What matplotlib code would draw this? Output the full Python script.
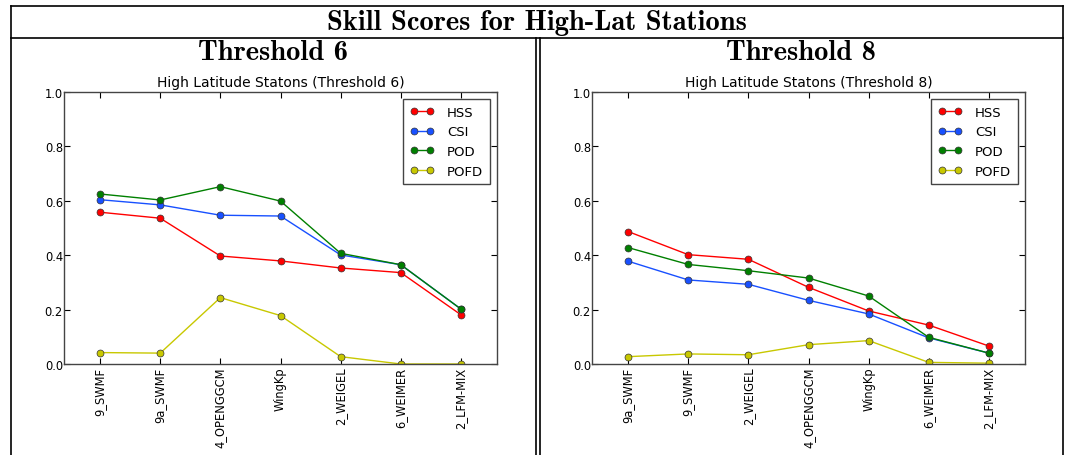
import matplotlib
matplotlib.use("Agg")
import matplotlib.pyplot as plt
from matplotlib.lines import Line2D

# station models along the x axis, ordered as in each panel
models_t6 = ["9_SWMF", "9a_SWMF", "4_OPENGGCM", "WingKp", "2_WEIGEL", "6_WEIMER", "2_LFM-MIX"]
models_t8 = ["9a_SWMF", "9_SWMF", "2_WEIGEL", "4_OPENGGCM", "WingKp", "6_WEIMER", "2_LFM-MIX"]

# threshold 6 skill scores
hss_t6 = [0.558, 0.536, 0.397, 0.379, 0.353, 0.336, 0.181]
csi_t6 = [0.604, 0.585, 0.547, 0.544, 0.401, 0.365, 0.202]
pod_t6 = [0.625, 0.603, 0.652, 0.599, 0.407, 0.365, 0.202]
pofd_t6 = [0.042, 0.040, 0.244, 0.178, 0.027, 0.0, 0.0]

# threshold 8 skill scores
hss_t8 = [0.487, 0.402, 0.385, 0.282, 0.195, 0.143, 0.066]
csi_t8 = [0.378, 0.309, 0.293, 0.234, 0.184, 0.096, 0.040]
pod_t8 = [0.428, 0.366, 0.343, 0.316, 0.250, 0.098, 0.040]
pofd_t8 = [0.027, 0.037, 0.034, 0.071, 0.086, 0.006, 0.003]

score_names = ["HSS", "CSI", "POD", "POFD"]
score_colors = ["#ff0000", "#1850ff", "#008000", "#c8c800"]

W, H = 1068, 456
fig = plt.figure(figsize=(W / 100, H / 100), dpi=100)
fig.patch.set_facecolor("white")


def fx(px):
    return px / W


def fy(py):
    return 1 - py / H


def draw_panel(ax, models, series, title):
    x = list(range(len(models)))
    for name, vals, col in zip(score_names, series, score_colors):
        ax.plot(x, vals, "-o", color=col, lw=1.0, ms=5,
                mec="#333333", mew=0.5, label=name)
    ax.set_xlim(-0.6, len(models) - 0.4)
    ax.set_ylim(0, 1.0)
    ax.set_yticks([0.0, 0.2, 0.4, 0.6, 0.8, 1.0])
    ax.set_yticklabels(["0.0", "0.2", "0.4", "0.6", "0.8", "1.0"])
    ax.set_xticks(x)
    ax.set_xticklabels(models, rotation=90)
    ax.tick_params(direction="in", length=4, width=0.8, top=True, right=True,
                   labelsize=8.3, colors="black")
    ax.tick_params(axis="x", pad=2)
    ax.tick_params(axis="y", pad=0.8)
    for sp in ax.spines.values():
        sp.set_color("#444444")
        sp.set_linewidth(1.0)
    ax.set_title(title, fontsize=10, pad=4)
    leg = ax.legend(loc="upper right", fontsize=9.5, handlelength=1.8,
                    handletextpad=1.0, numpoints=2, fancybox=False,
                    framealpha=1, borderaxespad=0.55, borderpad=0.5,
                    labelspacing=0.5)
    leg.get_frame().set_edgecolor("#444444")
    leg.get_frame().set_linewidth(1.0)


ax1 = fig.add_axes([fx(64), fy(365), fx(433), (365 - 93) / H])
draw_panel(ax1, models_t6, [hss_t6, csi_t6, pod_t6, pofd_t6],
           "High Latitude Statons (Threshold 6)")

ax2 = fig.add_axes([fx(592), fy(365), fx(433), (365 - 93) / H])
draw_panel(ax2, models_t8, [hss_t8, csi_t8, pod_t8, pofd_t8],
           "High Latitude Statons (Threshold 8)")

# table frame around the two panels
frame_lines = [
    ((11, 1063), (7, 7)),
    ((11, 1063), (39, 39)),
    ((11, 11), (7, 456)),
    ((1063, 1063), (7, 456)),
    ((535.5, 535.5), (39, 456)),
    ((539.5, 539.5), (39, 456)),
]
for xs, ys in frame_lines:
    fig.add_artist(Line2D([fx(v) for v in xs], [fy(v) for v in ys],
                          transform=fig.transFigure, color="black", lw=1.2))

fig.text(fx(537), fy(23), "Skill Scores for High-Lat Stations", family="cmb10",
         fontsize=20.5, ha="center", va="center")
fig.text(fx(273), fy(53), "Threshold 6", family="cmb10", fontsize=20.5,
         ha="center", va="center")
fig.text(fx(801), fy(53), "Threshold 8", family="cmb10", fontsize=20.5,
         ha="center", va="center")

fig.savefig("out.png", dpi=100, facecolor="white")
